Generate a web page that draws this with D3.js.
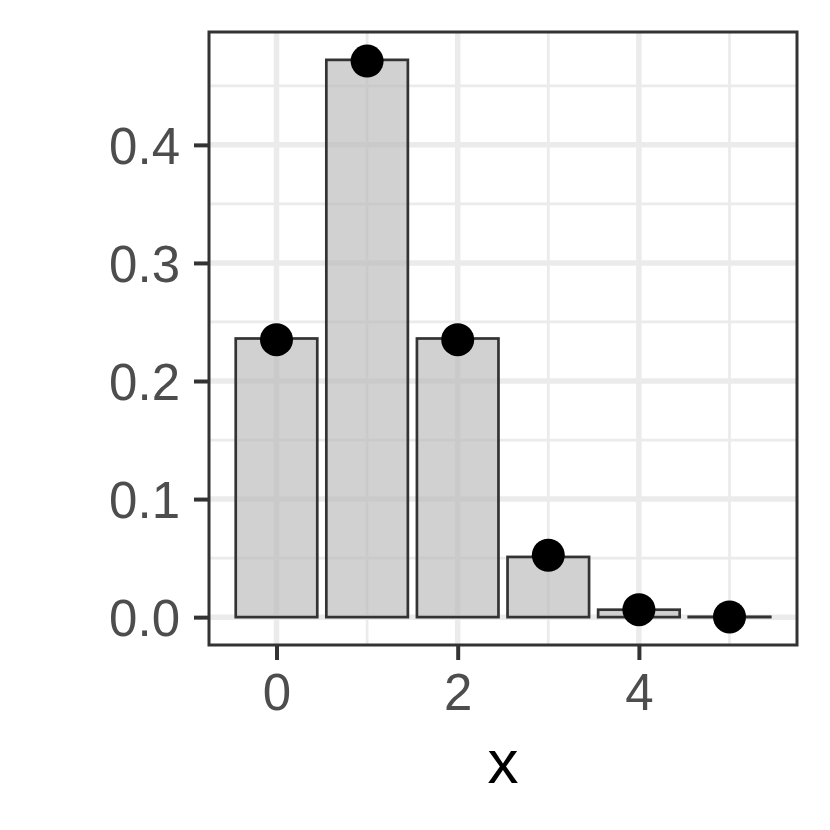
<!DOCTYPE html>
<html>
<head>
<meta charset="utf-8">
<script src="https://cdn.jsdelivr.net/npm/d3@7"></script>
<style>
  body { margin: 0; background: #fff; }
  svg { display: block; font-family: "Liberation Sans", Arial, sans-serif; }
</style>
</head>
<body>
<svg width="830" height="830"></svg>
<script>
// data
const xs = [0, 1, 2, 3, 4, 5];
const barVals = [0.236, 0.472, 0.236, 0.051, 0.0063, 0.0003];
const pointVals = [0.235, 0.471, 0.235, 0.0524, 0.0063, 0.0002];
const xTicks = [0, 2, 4];
const xMinor = [1, 3, 5];
const yTicks = [0, 0.1, 0.2, 0.3, 0.4];
const yMinor = [0.05, 0.15, 0.25, 0.35, 0.45];

const svg = d3.select("svg");
const pLeft = 209, pRight = 797, pTop = 32, pBottom = 645;

// ggplot style expansion (5%)
const xlo = -0.45, xhi = 5.45;
const xpad = (xhi - xlo) * 0.05;
const x = d3.scaleLinear().domain([xlo - xpad, xhi + xpad]).range([pLeft, pRight]);
const ymax = d3.max(barVals.concat(pointVals));
const ypad = ymax * 0.05;
const y = d3.scaleLinear().domain([-ypad, ymax + ypad]).range([pBottom, pTop]);

const grid = svg.append("g");
// minor grid
grid.selectAll(".ymin").data(yMinor).join("line")
  .attr("x1", pLeft).attr("x2", pRight)
  .attr("y1", d => y(d)).attr("y2", d => y(d))
  .attr("stroke", "#ebebeb").attr("stroke-width", 2.8);
grid.selectAll(".xmin").data(xMinor).join("line")
  .attr("y1", pTop).attr("y2", pBottom)
  .attr("x1", d => x(d)).attr("x2", d => x(d))
  .attr("stroke", "#ebebeb").attr("stroke-width", 2.8);
// major grid
grid.selectAll(".ymaj").data(yTicks).join("line")
  .attr("x1", pLeft).attr("x2", pRight)
  .attr("y1", d => y(d)).attr("y2", d => y(d))
  .attr("stroke", "#ebebeb").attr("stroke-width", 5.5);
grid.selectAll(".xmaj").data(xTicks).join("line")
  .attr("y1", pTop).attr("y2", pBottom)
  .attr("x1", d => x(d)).attr("x2", d => x(d))
  .attr("stroke", "#ebebeb").attr("stroke-width", 5.5);

// bars
const bw = x(0.9) - x(0);
svg.append("g").selectAll("rect").data(xs).join("rect")
  .attr("x", (d) => x(d) - bw / 2)
  .attr("width", bw)
  .attr("y", (d, i) => y(barVals[i]))
  .attr("height", (d, i) => y(0) - y(barVals[i]))
  .attr("fill", "#b8b8b8")
  .attr("fill-opacity", 0.65)
  .attr("stroke", "#333333")
  .attr("stroke-width", 2.7);

// points
svg.append("g").selectAll("circle").data(xs).join("circle")
  .attr("cx", d => x(d))
  .attr("cy", (d, i) => y(pointVals[i]))
  .attr("r", 16.5)
  .attr("fill", "#000");

// panel border
svg.append("rect")
  .attr("x", pLeft).attr("y", pTop)
  .attr("width", pRight - pLeft).attr("height", pBottom - pTop)
  .attr("fill", "none").attr("stroke", "#333333").attr("stroke-width", 3);

// axes
const yAxis = svg.append("g")
  .attr("transform", `translate(${pLeft},0)`)
  .call(d3.axisLeft(y).tickValues(yTicks).tickFormat(d3.format(".1f"))
    .tickSize(15).tickPadding(14));
const xAxis = svg.append("g")
  .attr("transform", `translate(0,${pBottom})`)
  .call(d3.axisBottom(x).tickValues(xTicks).tickFormat(d3.format("d"))
    .tickSize(15).tickPadding(14));
[yAxis, xAxis].forEach(a => {
  a.select(".domain").remove();
  a.selectAll(".tick line").attr("stroke", "#333333").attr("stroke-width", 4);
  a.selectAll(".tick text").attr("fill", "#4d4d4d")
    .style("font-size", "51px").style("font-family", "'Liberation Sans', Arial, sans-serif");
});
yAxis.selectAll(".tick text").attr("dy", "0.36em");

// axis title
svg.append("text")
  .attr("x", (pLeft + pRight) / 2)
  .attr("y", 783)
  .attr("text-anchor", "middle")
  .style("font-size", "62px")
  .attr("fill", "#000")
  .text("x");
</script>
</body>
</html>
